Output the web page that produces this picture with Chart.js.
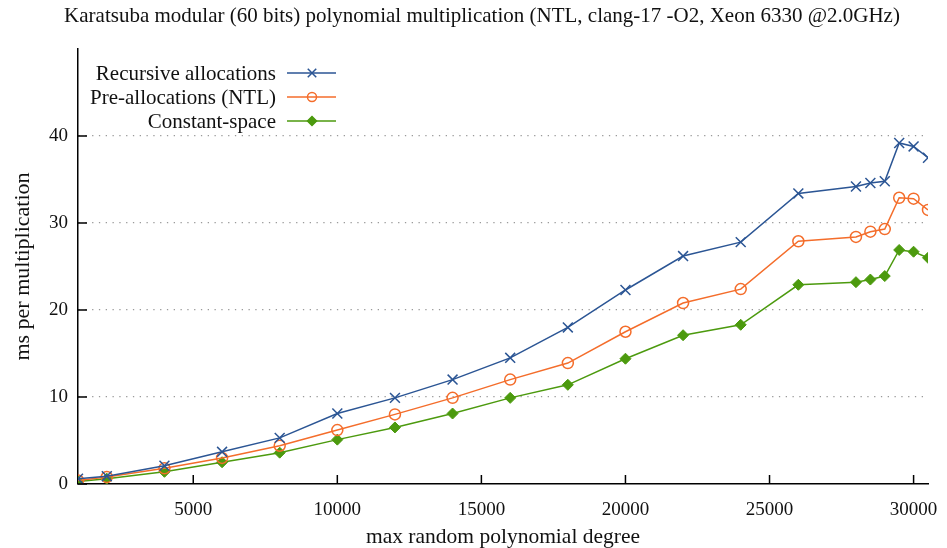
<!DOCTYPE html>
<html>
<head>
<meta charset="utf-8">
<script src="https://cdn.jsdelivr.net/npm/chart.js@4"></script>
<style>
  html, body { margin: 0; padding: 0; background: #fff; }
  #wrap { width: 947px; height: 548px; }
</style>
</head>
<body>
<div id="wrap"><canvas id="chart"></canvas></div>
<script>
// degrees measured
const degrees = [1000, 2000, 4000, 6000, 8000, 10000, 12000, 14000, 16000, 18000,
  20000, 22000, 24000, 26000, 28000, 28500, 29000, 29500, 30000, 30500];

// ms per multiplication
const recursiveAlloc = [0.6, 0.9, 2.1, 3.7, 5.3, 8.1, 9.9, 12.0, 14.5, 18.0,
  22.3, 26.2, 27.8, 33.4, 34.2, 34.6, 34.8, 39.2, 38.8, 37.5];
const preAlloc = [0.4, 0.8, 1.8, 3.0, 4.4, 6.2, 8.0, 9.9, 12.0, 13.9,
  17.5, 20.8, 22.4, 27.9, 28.4, 29.0, 29.3, 32.9, 32.8, 31.5];
const constantSpace = [0.3, 0.6, 1.4, 2.5, 3.6, 5.1, 6.5, 8.1, 9.9, 11.4,
  14.4, 17.1, 18.3, 22.9, 23.2, 23.5, 23.9, 26.9, 26.7, 26.0];

const xTicks = [5000, 10000, 15000, 20000, 25000, 30000];
const yTicks = [0, 10, 20, 30, 40];

const chartTitle = "Karatsuba modular (60 bits) polynomial multiplication (NTL, clang-17 -O2, Xeon 6330 @2.0GHz)";

const FONT = "'Liberation Serif', 'DejaVu Serif', serif";

function toPoints(values) {
  return values.map((v, i) => ({ x: degrees[i], y: v }));
}

// title is not centred on the canvas in the original, so draw it by hand
const topTitle = {
  id: "topTitle",
  afterDraw(chart) {
    const ctx = chart.ctx;
    ctx.save();
    ctx.font = "21px " + FONT;
    ctx.fillStyle = "#111";
    ctx.textAlign = "center";
    ctx.textBaseline = "middle";
    ctx.fillText(chartTitle, 482, 16);
    ctx.restore();
  }
};

// gnuplot style legend: text right aligned, sample line on the right
const sideLegend = {
  id: "sideLegend",
  afterDatasetsDraw(chart) {
    const ctx = chart.ctx;
    const area = chart.chartArea;
    const textRight = area.left + 198;
    ctx.save();
    ctx.font = "21px " + FONT;
    ctx.textAlign = "right";
    ctx.textBaseline = "middle";
    chart.data.datasets.forEach((ds, i) => {
      const y = area.top + 24 + i * 24;
      ctx.fillStyle = "#111";
      ctx.fillText(ds.label, textRight, y + 1);
      ctx.strokeStyle = ds.borderColor;
      ctx.lineWidth = ds.borderWidth;
      ctx.beginPath();
      ctx.moveTo(textRight + 11, y);
      ctx.lineTo(textRight + 60, y);
      ctx.stroke();
      ctx.fillStyle = ds.pointBackgroundColor;
      ctx.strokeStyle = ds.borderColor;
      ctx.lineWidth = 1.5;
      Chart.helpers.drawPoint(ctx, {
        pointStyle: ds.pointStyle,
        radius: ds.pointRadius - 1,
        borderWidth: 1.5,
        rotation: 0
      }, textRight + 36, y);
      if (ds.pointBackgroundColor !== "transparent") ctx.fill();
    });
    ctx.restore();
  }
};

// inward tick marks like gnuplot
const innerTicks = {
  id: "innerTicks",
  afterDraw(chart) {
    const ctx = chart.ctx;
    const area = chart.chartArea;
    const xs = chart.scales.x;
    const ys = chart.scales.y;
    ctx.save();
    ctx.strokeStyle = "#000";
    ctx.lineWidth = 1.5;
    ctx.beginPath();
    xTicks.forEach((t) => {
      const px = xs.getPixelForValue(t);
      ctx.moveTo(px, area.bottom);
      ctx.lineTo(px, area.bottom - 9);
    });
    yTicks.forEach((t) => {
      const py = ys.getPixelForValue(t);
      ctx.moveTo(area.left, py);
      ctx.lineTo(area.left + 9, py);
    });
    ctx.stroke();
    ctx.restore();
  }
};

new Chart(document.getElementById("chart"), {
  type: "line",
  data: {
    datasets: [
      {
        label: "Recursive allocations",
        data: toPoints(recursiveAlloc),
        borderColor: "#2b5594",
        backgroundColor: "#2b5594",
        pointBackgroundColor: "transparent",
        borderWidth: 1.5,
        pointStyle: "crossRot",
        pointRadius: 7,
        pointBorderWidth: 1.5,
        tension: 0
      },
      {
        label: "Pre-allocations (NTL)",
        data: toPoints(preAlloc),
        borderColor: "#f46d2b",
        backgroundColor: "#f46d2b",
        pointBackgroundColor: "transparent",
        borderWidth: 1.5,
        pointStyle: "circle",
        pointRadius: 5.5,
        pointBorderWidth: 1.5,
        tension: 0
      },
      {
        label: "Constant-space",
        data: toPoints(constantSpace),
        borderColor: "#4c9a0e",
        backgroundColor: "#4c9a0e",
        pointBackgroundColor: "#4c9a0e",
        borderWidth: 1.5,
        pointStyle: "rectRot",
        pointRadius: 5.5,
        pointBorderWidth: 1,
        tension: 0
      }
    ]
  },
  options: {
    responsive: true,
    maintainAspectRatio: false,
    animation: false,
    layout: {
      padding: { left: 0, right: 19, top: 49, bottom: 0 }
    },
    plugins: {
      legend: { display: false },
      tooltip: { enabled: false },
      title: { display: false }
    },
    scales: {
      x: {
        type: "linear",
        min: 1000,
        max: 30500,
        afterBuildTicks: (scale) => {
          scale.ticks = xTicks.map((v) => ({ value: v }));
        },
        afterFit: (scale) => {
          scale.height = 64;
          scale.paddingRight = 0;
        },
        grid: { display: false, drawTicks: false },
        border: { display: true, color: "#000", width: 1.5 },
        ticks: {
          color: "#111",
          font: { family: FONT, size: 19 },
          padding: 15,
          maxRotation: 0,
          callback: (v) => String(v)
        },
        title: {
          display: true,
          text: "max random polynomial degree",
          color: "#111",
          font: { family: FONT, size: 21.5, lineHeight: 1.0 },
          padding: { top: 0, bottom: 0 }
        }
      },
      y: {
        min: 0,
        max: 50,
        afterBuildTicks: (scale) => {
          scale.ticks = yTicks.map((v) => ({ value: v }));
        },
        afterFit: (scale) => {
          scale.width = 78;
        },
        grid: {
          drawTicks: false,
          color: (c) => (c.tick && c.tick.value === 0 ? "rgba(0,0,0,0)" : "#9a9a9a"),
          lineWidth: 1.3
        },
        border: { display: true, color: "#000", width: 1.5, dash: [1.3, 5.5] },
        ticks: {
          color: "#111",
          font: { family: FONT, size: 19 },
          padding: 10,
          callback: (v) => String(v)
        },
        title: {
          display: true,
          text: "ms per multiplication",
          color: "#111",
          font: { family: FONT, size: 22 },
          padding: { top: 10, bottom: 0 }
        }
      }
    }
  },
  plugins: [topTitle, sideLegend, innerTicks]
});
</script>
</body>
</html>
